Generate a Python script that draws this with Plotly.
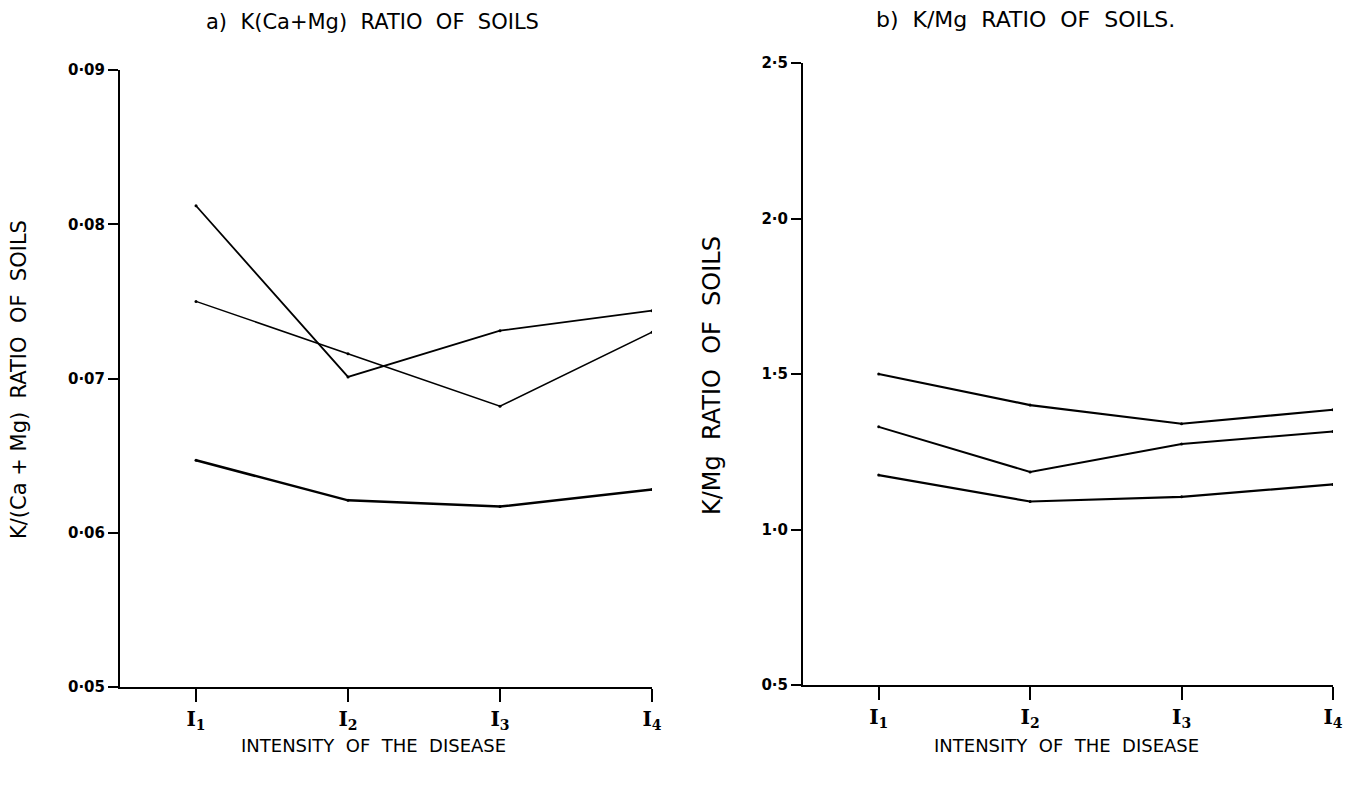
import plotly.graph_objects as go

intensity = ["I<sub>1</sub>", "I<sub>2</sub>", "I<sub>3</sub>", "I<sub>4</sub>"]

# a) K/(Ca+Mg) ratio of soils
kcamg_line1 = [0.0812, 0.0701, 0.0731, 0.0744]
kcamg_line2 = [0.0750, 0.0716, 0.0682, 0.0730]
kcamg_line3 = [0.0647, 0.0621, 0.0617, 0.0628]
kcamg_ticks = [0.05, 0.06, 0.07, 0.08, 0.09]
kcamg_ticktext = ["0·05", "0·06", "0·07", "0·08", "0·09"]

# b) K/Mg ratio of soils
kmg_line1 = [1.50, 1.40, 1.34, 1.385]
kmg_line2 = [1.33, 1.185, 1.275, 1.315]
kmg_line3 = [1.175, 1.09, 1.105, 1.145]
kmg_ticks = [0.5, 1.0, 1.5, 2.0, 2.5]
kmg_ticktext = ["0·5", "1·0", "1·5", "2·0", "2·5"]

FONT = "DejaVu Sans"
SERIF = "DejaVu Serif"
W, H = 1355, 769   # page has an 8px body margin
OFF = 8

fig = go.Figure()

def add(x, y, xa, ya, w):
    fig.add_trace(go.Scatter(x=x, y=y, xaxis=xa, yaxis=ya, mode="lines+markers",
                             line=dict(color="black", width=w),
                             marker=dict(color="black", size=3),
                             showlegend=False, hoverinfo="skip"))

add(intensity, kcamg_line1, "x", "y", 1.8)
add(intensity, kcamg_line2, "x", "y", 1.5)
add(intensity, kcamg_line3, "x", "y", 2.5)
add(intensity, kmg_line1, "x2", "y2", 2.2)
add(intensity, kmg_line2, "x2", "y2", 2.0)
add(intensity, kmg_line3, "x2", "y2", 2.2)

def px(x):
    return (x - OFF) / W

def py(y):
    return 1 - (y - OFF) / H

xcommon = dict(type="category", range=[-0.5, 3], showline=True, linecolor="black", linewidth=2,
               ticks="outside", ticklen=13, tickwidth=2, tickcolor="black", showgrid=False,
               zeroline=False, automargin=False,
               tickfont=dict(family=SERIF, size=20, color="black", weight="bold"), fixedrange=True)
ycommon = dict(showline=True, linecolor="black", linewidth=2, ticks="outside", ticklen=10,
               tickwidth=2, tickcolor="black", showgrid=False, zeroline=False, automargin=False,
               tickfont=dict(family=FONT, size=15, color="black", weight="bold"), fixedrange=True)

fig.update_layout(
    width=W, height=H,
    margin=dict(l=0, r=0, t=0, b=0, autoexpand=False),
    paper_bgcolor="white", plot_bgcolor="white",
    xaxis=dict(domain=[px(120), px(652)], anchor="y", **xcommon),
    yaxis=dict(domain=[py(687), py(70)], anchor="x", range=[0.05, 0.09],
               tickvals=kcamg_ticks, ticktext=kcamg_ticktext, **ycommon),
    xaxis2=dict(domain=[px(803), px(1333)], anchor="y2", **xcommon),
    yaxis2=dict(domain=[py(685), py(63)], anchor="x2", range=[0.5, 2.5],
                tickvals=kmg_ticks, ticktext=kmg_ticktext, **ycommon),
)

anns = [
    dict(text="a)  K(Ca+Mg)  RATIO  OF  SOILS", x=px(372), y=py(22),
         font=dict(family=FONT, size=21, color="black")),
    dict(text="b)  K/Mg  RATIO  OF  SOILS.", x=px(1025), y=py(20),
         font=dict(family=FONT, size=22, color="black")),
    dict(text="INTENSITY  OF  THE  DISEASE", x=px(373), y=py(745),
         font=dict(family=FONT, size=18, color="black")),
    dict(text="INTENSITY  OF  THE  DISEASE", x=px(1066), y=py(745),
         font=dict(family=FONT, size=18, color="black")),
    dict(text="K/(Ca + Mg)  RATIO  OF  SOILS", x=px(19), y=py(380), textangle=-90,
         font=dict(family=FONT, size=21, color="black")),
    dict(text="K/Mg  RATIO  OF  SOILS", x=px(712), y=py(375), textangle=-90,
         font=dict(family=FONT, size=24, color="black")),
]
for a in anns:
    fig.add_annotation(xref="paper", yref="paper", showarrow=False,
                       xanchor="center", yanchor="middle", **a)

fig.write_html("out.html")
